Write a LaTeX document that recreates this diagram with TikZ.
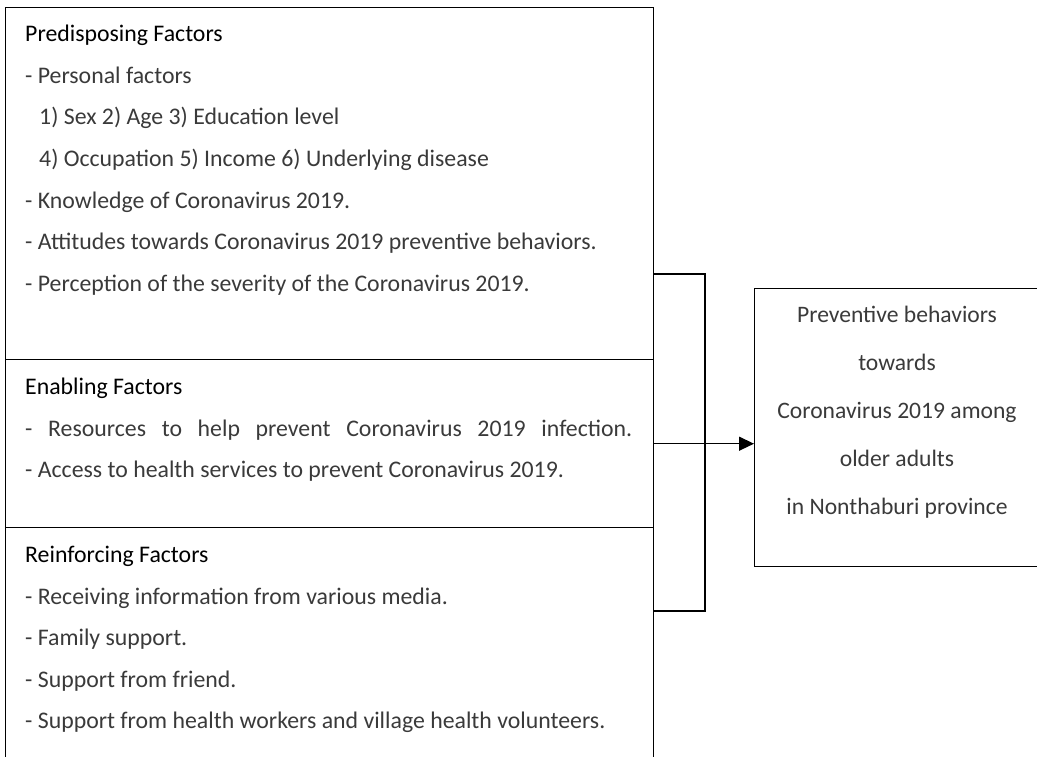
\documentclass[tikz,border=0pt]{standalone}
\usepackage{fontspec}
\setmainfont{Carlito}
\usetikzlibrary{arrows.meta}
\definecolor{txt}{HTML}{3A3A3A}
\begin{document}
\begin{tikzpicture}[x=1pt,y=-1pt,
  box/.style={draw, line width=1.4pt, rectangle, inner sep=0pt, anchor=north west},
  hd/.style={anchor=mid west, inner sep=0pt, font=\fontsize{23.8}{28}\selectfont, text=black},
  ln/.style={anchor=mid west, inner sep=0pt, font=\fontsize{23.8}{28}\selectfont, text=txt},
  rt/.style={anchor=mid, inner sep=0pt, font=\fontsize{23.6}{28}\selectfont, text=txt},
  conn/.style={line width=1.4pt}]
\useasboundingbox (0,0) rectangle (1037,756);
\clip (0,0) rectangle (1037,756);
% boxes
\node[box, minimum width=648pt, minimum height=352pt] (pre) at (5,7) {};
\node[box, minimum width=648pt, minimum height=168pt] (ena) at (5,359) {};
\node[box, minimum width=648pt, minimum height=260pt] (rei) at (5,527) {};
\node[box, minimum width=286pt, minimum height=278pt] (out) at (754,288) {};
% predisposing
\node[hd] (p0) at (25,39) {Predisposing Factors};
\node[ln] (p1) at (25,81) {- Personal factors};
\node[ln] (p2) at (39,122) {1) Sex 2) Age 3) Education level};
\node[ln] (p3) at (39,164) {4) Occupation 5) Income 6) Underlying disease};
\node[ln] (p4) at (25,206) {- Knowledge of Coronavirus 2019.};
\node[ln] (p5) at (25,247) {- Attitudes towards Coronavirus 2019 preventive behaviors.};
\node[ln] (p6) at (25,289) {- Perception of the severity of the Coronavirus 2019.};
% enabling
\node[hd] (e0) at (25,392) {Enabling Factors};
\node[ln] (e1) at (25,434) {\makebox[607pt][s]{- Resources to help prevent Coronavirus 2019 infection.}};
\node[ln] (e2) at (25,475) {- Access to health services to prevent Coronavirus 2019.};
% reinforcing
\node[hd] (r0) at (25,560) {Reinforcing Factors};
\node[ln] (r1) at (25,602) {- Receiving information from various media.};
\node[ln] (r2) at (25,643) {- Family support.};
\node[ln] (r3) at (25,685) {- Support from friend.};
\node[ln] (r4) at (25,726) {- Support from health workers and village health volunteers.};
% outcome
\node[rt] (o1) at (897,320) {Preventive behaviors};
\node[rt] (o2) at (897,368) {towards};
\node[rt] (o3) at (897,416) {Coronavirus 2019 among};
\node[rt] (o4) at (897,464) {older adults};
\node[rt] (o5) at (897,512) {in Nonthaburi province};
% connectors
\coordinate (b1) at (705,274);
\coordinate (b2) at (705,611);
\draw[conn] (pre.east |- b1) -- (b1) -- (b2) -- (rei.east |- b2);
\draw[conn, -{Triangle[length=15pt,width=14pt]}] (ena.east) -- (ena.east -| out.west);
\end{tikzpicture}
\end{document}
